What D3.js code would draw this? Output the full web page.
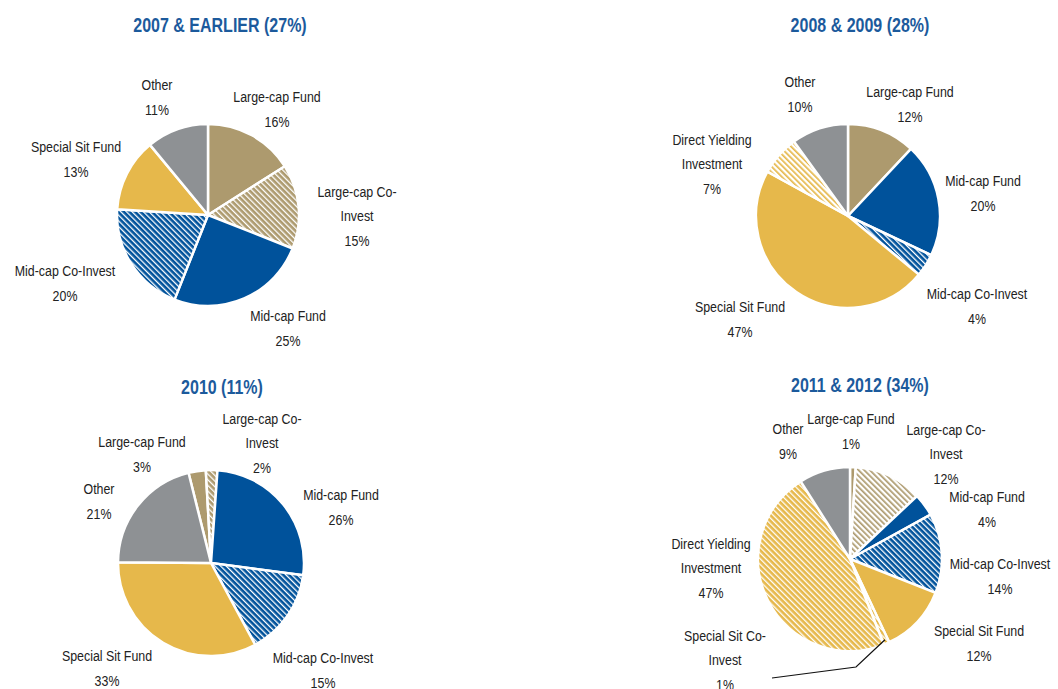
<!DOCTYPE html>
<html>
<head>
<meta charset="utf-8">
<script src="https://cdn.jsdelivr.net/npm/d3@7"></script>
<style>
  body { margin: 0; background: #fff; }
  text { font-family: "Liberation Sans", Arial, sans-serif; }
</style>
</head>
<body>
<div id="plot"></div>
<script>
// Data
const titles = ["2007 & EARLIER (27%)", "2008 & 2009 (28%)", "2010 (11%)", "2011 & 2012 (34%)"];

const cats2007 = ["Large-cap Fund", "Large-cap Co-Invest", "Mid-cap Fund", "Mid-cap Co-Invest", "Special Sit Fund", "Other"];
const vals2007 = [16, 15, 25, 20, 13, 11];

const cats2008 = ["Large-cap Fund", "Mid-cap Fund", "Mid-cap Co-Invest", "Special Sit Fund", "Direct Yielding Investment", "Other"];
const vals2008 = [12, 20, 4, 47, 7, 10];

const cats2010 = ["Large-cap Fund", "Large-cap Co-Invest", "Mid-cap Fund", "Mid-cap Co-Invest", "Special Sit Fund", "Other"];
const vals2010 = [3, 2, 26, 15, 33, 21];

const cats2011 = ["Large-cap Fund", "Large-cap Co-Invest", "Mid-cap Fund", "Mid-cap Co-Invest", "Special Sit Fund", "Special Sit Co-Invest", "Direct Yielding Investment", "Other"];
const vals2011 = [1, 12, 4, 14, 12, 1, 47, 9];

// Styles
const baseColor = {
  "Large-cap Fund": "#ad9a6e",
  "Large-cap Co-Invest": "#ad9a6e",
  "Mid-cap Fund": "#00529b",
  "Mid-cap Co-Invest": "#00529b",
  "Special Sit Fund": "#e6b84b",
  "Special Sit Co-Invest": "#e6b84b",
  "Direct Yielding Investment": "#e6b84b",
  "Other": "#8e9194"
};
// fill kind: solid, dense (colour with white stripes), light (white with colour stripes)
const fillKind = [
  { "Large-cap Co-Invest": "dense", "Mid-cap Co-Invest": "dense" },
  { "Mid-cap Co-Invest": "dense", "Direct Yielding Investment": "light" },
  { "Large-cap Co-Invest": "dense", "Mid-cap Co-Invest": "dense" },
  { "Large-cap Co-Invest": "light", "Mid-cap Co-Invest": "dense", "Special Sit Co-Invest": "dense", "Direct Yielding Investment": "dense" }
];

// Layout of each pie and its label block offsets (relative to the pie centre)
const layout = [
  { cx: 208, cy: 215, r: 91, start: 0, tx: 220, ty: 25,
    labels: [[69, -106], [149, 1], [80, 113], [-143, 68], [-132, -56], [-51, -118]] },
  { cx: 848, cy: 216, r: 92, start: 0, tx: 860, ty: 25,
    labels: [[62, -112], [135, -23], [129, 90], [-108, 103], [-136, -52], [-48, -122]] },
  { cx: 211, cy: 563, r: 93, start: -14, tx: 222, ty: 387,
    labels: [[-69, -109], [51, -120], [130, -56], [112, 107], [-104, 105], [-112, -62]] },
  { cx: 850, cy: 559, r: 92, start: 0, tx: 860, ty: 385,
    labels: [[1, -128], [96, -105], [137, -50], [150, 17], [129, 84], [-125, 101], [-139, 9], [-62, -118]] }
];

const charts = [
  { cats: cats2007, vals: vals2007 },
  { cats: cats2008, vals: vals2008 },
  { cats: cats2010, vals: vals2010 },
  { cats: cats2011, vals: vals2011 }
];

const width = 1058;
const height = 689;
const lineGap = 24.5;
const narrow = 0.8; // horizontal squeeze to imitate a narrow face

const svg = d3.select("#plot")
  .append("svg")
  .attr("width", width)
  .attr("height", height);

// Hatch patterns
const defs = svg.append("defs");
const made = new Set();
function ensurePattern(kind, color) {
  const id = `hatch-${kind}-${color.slice(1)}`;
  if (made.has(id)) return id;
  made.add(id);
  const p = defs.append("pattern")
    .attr("id", id)
    .attr("patternUnits", "userSpaceOnUse")
    .attr("width", 4)
    .attr("height", 10)
    .attr("patternTransform", "rotate(-45)");
  p.append("rect")
    .attr("width", 4).attr("height", 10)
    .attr("fill", kind === "dense" ? color : "#fff");
  p.append("rect")
    .attr("x", 0).attr("width", kind === "dense" ? 1.3 : 1.7).attr("height", 10)
    .attr("fill", kind === "dense" ? "#fff" : color);
  return id;
}

function splitLabel(name) {
  if (name.length <= 18) return [name];
  const co = name.indexOf("Co-");
  if (co > 0) return [name.slice(0, co + 3), name.slice(co + 3)];
  const sp = name.lastIndexOf(" ");
  return [name.slice(0, sp), name.slice(sp + 1)];
}

charts.forEach((c, i) => {
  const L = layout[i];
  const g = svg.append("g").attr("transform", `translate(${L.cx},${L.cy})`);
  const a0 = L.start * Math.PI / 180;

  const pie = d3.pie()
    .sort(null)
    .startAngle(a0)
    .endAngle(a0 + 2 * Math.PI)
    .value(d => d.v);

  const data = c.cats.map((name, k) => ({ name, v: c.vals[k], k }));
  const arcs = pie(data);
  const arc = d3.arc().innerRadius(0).outerRadius(L.r);

  g.selectAll("path.slice")
    .data(arcs)
    .enter()
    .append("path")
    .attr("class", "slice")
    .attr("d", arc)
    .attr("fill", d => {
      const kind = fillKind[i][d.data.name] || "solid";
      const col = baseColor[d.data.name];
      return kind === "solid" ? col : `url(#${ensurePattern(kind, col)})`;
    })
    .attr("stroke", "#fff")
    .attr("stroke-width", 2.5)
    .attr("stroke-linejoin", "round");

  // Title
  svg.append("text")
    .attr("transform", `translate(${L.tx},${L.ty}) scale(${narrow},1)`)
    .attr("dy", "0.35em")
    .attr("text-anchor", "middle")
    .attr("font-size", 20)
    .attr("font-weight", "bold")
    .attr("fill", "#1c5a9c")
    .text(titles[i]);

  // Labels
  arcs.forEach((d, k) => {
    const lines = splitLabel(d.data.name).concat([d.data.v + "%"]);
    const [ox, oy] = L.labels[k];
    const top = oy - (lines.length - 1) * lineGap / 2;
    const t = g.append("text")
      .attr("transform", `translate(${ox},${top}) scale(${narrow},1)`)
      .attr("text-anchor", "middle")
      .attr("font-size", 15.5)
      .attr("fill", "#222");
    lines.forEach((ln, j) => {
      t.append("tspan")
        .attr("x", 0)
        .attr("y", j * lineGap)
        .attr("dy", "0.35em")
        .text(ln);
    });

    // leader line for the tiny Special Sit Co-Invest slice
    if (d.data.name === "Special Sit Co-Invest") {
      const mid = (d.startAngle + d.endAngle) / 2;
      const sx = Math.sin(mid) * (L.r - 4);
      const sy = -Math.cos(mid) * (L.r - 4);
      g.append("polyline")
        .attr("points", [[sx, sy], [ox + 131, oy + 7], [ox + 47, oy + 18]].map(p => p.join(",")).join(" "))
        .attr("fill", "none")
        .attr("stroke", "#111")
        .attr("stroke-width", 1.2);
    }
  });
});
</script>
</body>
</html>
